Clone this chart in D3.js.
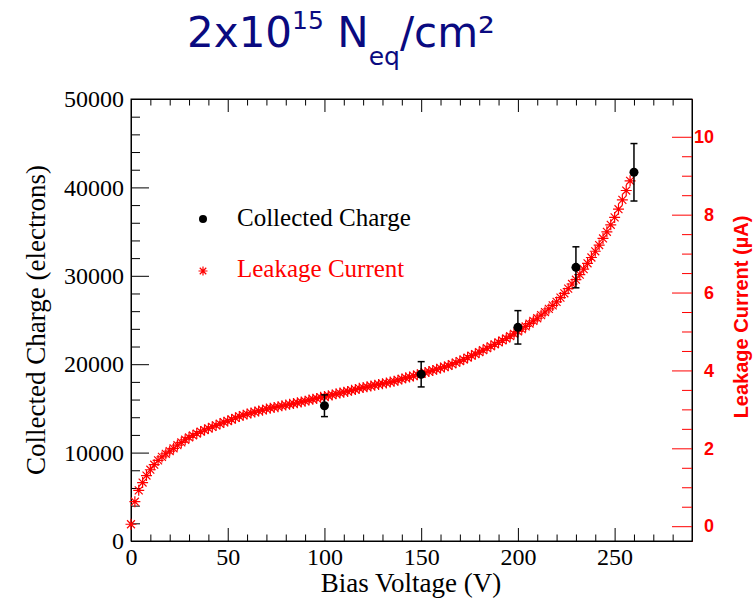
<!DOCTYPE html>
<html>
<head>
<meta charset="utf-8">
<script src="https://d3js.org/d3.v7.min.js"></script>
<style>
  body { margin: 0; background: #fff; }
</style>
</head>
<body>
<div id="chart"></div>
<script>
var svgWidth = 756;
var svgHeight = 600;

// frame of the plot (pixels)
var frame = { left: 131, right: 692, top: 99, bottom: 541 };

// Collected charge measurements
var chargeVoltage = [100, 150, 200, 230, 260];
var chargeValue = [15300, 18860, 24170, 30960, 41710];
var chargeError = [1230, 1430, 1890, 2320, 3250];

// Leakage current scan (V, uA)
var leakVoltage = [0, 2, 4, 6, 8, 10, 12, 14, 16, 18, 20, 22, 24, 26, 28, 30, 32, 34, 36, 38,
  40, 42, 44, 46, 48, 50, 52, 54, 56, 58, 60, 62, 64, 66, 68, 70, 72, 74, 76, 78,
  80, 82, 84, 86, 88, 90, 92, 94, 96, 98, 100, 102, 104, 106, 108, 110, 112, 114, 116, 118,
  120, 122, 124, 126, 128, 130, 132, 134, 136, 138, 140, 142, 144, 146, 148, 150, 152, 154, 156, 158,
  160, 162, 164, 166, 168, 170, 172, 174, 176, 178, 180, 182, 184, 186, 188, 190, 192, 194, 196, 198,
  200, 202, 204, 206, 208, 210, 212, 214, 216, 218, 220, 222, 224, 226, 228, 230, 232, 234, 236, 238,
  240, 242, 244, 246, 248, 250, 252, 254, 256, 258];
var leakCurrent = [0.05, 0.63, 0.92, 1.12, 1.30, 1.45, 1.58, 1.69, 1.78, 1.86, 1.93, 2.00, 2.08, 2.15, 2.22, 2.28, 2.33, 2.38, 2.43, 2.47,
  2.51, 2.55, 2.59, 2.63, 2.67, 2.70, 2.74, 2.78, 2.82, 2.85, 2.88, 2.91, 2.93, 2.96, 2.98, 3.01, 3.03, 3.05, 3.07, 3.09,
  3.11, 3.13, 3.15, 3.17, 3.19, 3.21, 3.24, 3.26, 3.28, 3.31, 3.33, 3.35, 3.37, 3.40, 3.42, 3.44, 3.46, 3.49, 3.51, 3.54,
  3.56, 3.58, 3.60, 3.62, 3.64, 3.66, 3.68, 3.70, 3.72, 3.75, 3.78, 3.81, 3.83, 3.86, 3.89, 3.92, 3.95, 3.97, 4.00, 4.03,
  4.06, 4.09, 4.12, 4.16, 4.20, 4.24, 4.28, 4.33, 4.38, 4.42, 4.47, 4.52, 4.57, 4.62, 4.67, 4.72, 4.77, 4.82, 4.88, 4.94,
  5.00, 5.06, 5.13, 5.20, 5.27, 5.34, 5.42, 5.50, 5.58, 5.67, 5.76, 5.87, 5.98, 6.10, 6.22, 6.33, 6.46, 6.60, 6.75, 6.90,
  7.06, 7.22, 7.39, 7.56, 7.74, 7.93, 8.14, 8.38, 8.62, 8.87];

// tick values
var xMajorTicks = [0, 50, 100, 150, 200, 250];
var yMajorTicks = [0, 10000, 20000, 30000, 40000, 50000];
var iMajorTicks = [0, 2, 4, 6, 8, 10];

var serif = "Liberation Serif, Times New Roman, serif";
var sans = "Liberation Sans, Arial, sans-serif";

var svg = d3.select("#chart")
  .append("svg")
  .attr("width", svgWidth)
  .attr("height", svgHeight);

// scales
var xScale = d3.scaleLinear().domain([0, 290]).range([frame.left, frame.right]);
var yScale = d3.scaleLinear().domain([0, 50000]).range([frame.bottom, frame.top]);
var iScale = d3.scaleLinear().domain([-0.38, 10.97]).range([frame.bottom, frame.top]);

var xMinor = d3.range(0, 291, 10).filter(d => xMajorTicks.indexOf(d) < 0);
var yMinor = d3.range(0, 50001, 2000).filter(d => yMajorTicks.indexOf(d) < 0);
var iMinor = d3.range(0, 21, 1).map(d => d / 2).filter(d => iMajorTicks.indexOf(d) < 0);

// frame
svg.append("rect")
  .attr("x", frame.left)
  .attr("y", frame.top)
  .attr("width", frame.right - frame.left)
  .attr("height", frame.bottom - frame.top)
  .attr("fill", "none")
  .attr("stroke", "#000")
  .attr("stroke-width", 1);

// bottom axis (ticks inside the frame)
var xAxis = svg.append("g")
  .attr("transform", `translate(0, ${frame.bottom})`)
  .call(d3.axisBottom(xScale).tickValues(xMajorTicks).tickSize(-13).tickSizeOuter(0).tickPadding(7));
svg.append("g")
  .attr("transform", `translate(0, ${frame.bottom})`)
  .call(d3.axisBottom(xScale).tickValues(xMinor).tickSize(-6.5).tickSizeOuter(0).tickFormat(""));

// top ticks
svg.append("g")
  .attr("transform", `translate(0, ${frame.top})`)
  .call(d3.axisTop(xScale).tickValues(xMajorTicks).tickSize(-13).tickSizeOuter(0).tickFormat(""));
svg.append("g")
  .attr("transform", `translate(0, ${frame.top})`)
  .call(d3.axisTop(xScale).tickValues(xMinor).tickSize(-6.5).tickSizeOuter(0).tickFormat(""));

// left axis
var yAxis = svg.append("g")
  .attr("transform", `translate(${frame.left}, 0)`)
  .call(d3.axisLeft(yScale).tickValues(yMajorTicks).tickSize(-18).tickSizeOuter(0).tickPadding(7).tickFormat(d3.format("d")));
svg.append("g")
  .attr("transform", `translate(${frame.left}, 0)`)
  .call(d3.axisLeft(yScale).tickValues(yMinor).tickSize(-9).tickSizeOuter(0).tickFormat(""));

svg.selectAll("g.tick line, path.domain").attr("stroke", "#000");
xAxis.selectAll("text").attr("font-size", 24).attr("fill", "#000").attr("font-family", serif);
yAxis.selectAll("text").attr("font-size", 24).attr("fill", "#000").attr("font-family", serif);

// right axis for leakage current
var iAxis = svg.append("g")
  .attr("transform", `translate(${frame.right}, 0)`)
  .call(d3.axisRight(iScale).tickValues(iMajorTicks).tickSize(-20).tickSizeOuter(0).tickPadding(4));
svg.append("g")
  .attr("transform", `translate(${frame.right}, 0)`)
  .call(d3.axisRight(iScale).tickValues(iMinor).tickSize(-10).tickSizeOuter(0).tickFormat(""))
  .selectAll("line").attr("stroke", "#ff0000");
iAxis.selectAll("line, path").attr("stroke", "#ff0000");
iAxis.selectAll("text")
  .attr("x", 22)
  .attr("text-anchor", "end")
  .attr("fill", "#ff0000")
  .attr("font-family", sans)
  .attr("font-weight", "bold")
  .attr("font-size", 18);

// axis titles
svg.append("text")
  .attr("x", 411)
  .attr("y", 592)
  .attr("text-anchor", "middle")
  .attr("font-family", serif)
  .attr("font-size", 27)
  .text("Bias Voltage (V)");

svg.append("text")
  .attr("transform", "translate(45, 320) rotate(-90)")
  .attr("text-anchor", "middle")
  .attr("font-family", serif)
  .attr("font-size", 27)
  .text("Collected Charge (electrons)");

svg.append("text")
  .attr("transform", "translate(748, 317) rotate(-90)")
  .attr("text-anchor", "middle")
  .attr("font-family", sans)
  .attr("font-weight", "bold")
  .attr("font-size", 20)
  .attr("fill", "#ff0000")
  .text("Leakage Current (\u00b5A)");

// title
var title = svg.append("text")
  .attr("x", 341)
  .attr("y", 47)
  .attr("text-anchor", "middle")
  .attr("fill", "#0a0a80")
  .attr("font-family", "DejaVu Sans, sans-serif")
  .attr("font-size", 42);
title.append("tspan").text("2x10");
title.append("tspan").attr("font-size", 25).attr("dy", -18).text("15");
title.append("tspan").attr("dy", 18).text(" N");
title.append("tspan").attr("font-size", 25).attr("dy", 18).text("eq");
title.append("tspan").attr("dy", -18).text("/cm\u00b2");

// star marker path (like ROOT marker 3)
function starPath(r) {
  var d = r * 0.72;
  return `M${-r},0L${r},0M0,${-r}L0,${r}M${-d},${-d}L${d},${d}M${-d},${d}L${d},${-d}`;
}

// leakage current stars
var leakData = leakVoltage.map((v, i) => ({ v: v, c: leakCurrent[i] }));
svg.append("g").selectAll("path")
  .data(leakData)
  .enter()
  .append("path")
  .attr("transform", d => `translate(${xScale(d.v)}, ${iScale(d.c)})`)
  .attr("d", starPath(5.5))
  .attr("stroke", "#ff0000")
  .attr("stroke-width", 1.2)
  .attr("fill", "none");

// collected charge with error bars
var chargeData = chargeVoltage.map((v, i) => ({ v: v, q: chargeValue[i], e: chargeError[i] }));
var pts = svg.append("g").selectAll("g")
  .data(chargeData)
  .enter()
  .append("g");

pts.append("line")
  .attr("x1", d => xScale(d.v))
  .attr("x2", d => xScale(d.v))
  .attr("y1", d => yScale(d.q - d.e))
  .attr("y2", d => yScale(d.q + d.e))
  .attr("stroke", "#000")
  .attr("stroke-width", 1.5);
pts.append("line")
  .attr("x1", d => xScale(d.v) - 3.5)
  .attr("x2", d => xScale(d.v) + 3.5)
  .attr("y1", d => yScale(d.q - d.e))
  .attr("y2", d => yScale(d.q - d.e))
  .attr("stroke", "#000")
  .attr("stroke-width", 1.5);
pts.append("line")
  .attr("x1", d => xScale(d.v) - 3.5)
  .attr("x2", d => xScale(d.v) + 3.5)
  .attr("y1", d => yScale(d.q + d.e))
  .attr("y2", d => yScale(d.q + d.e))
  .attr("stroke", "#000")
  .attr("stroke-width", 1.5);
pts.append("circle")
  .attr("cx", d => xScale(d.v))
  .attr("cy", d => yScale(d.q))
  .attr("r", 4.5)
  .attr("fill", "#000");

// legend
var legend = svg.append("g");
legend.append("circle")
  .attr("cx", 203)
  .attr("cy", 219)
  .attr("r", 4)
  .attr("fill", "#000");
legend.append("text")
  .attr("x", 237)
  .attr("y", 226)
  .attr("font-family", serif)
  .attr("font-size", 25)
  .attr("fill", "#000")
  .text("Collected Charge");
legend.append("path")
  .attr("transform", "translate(203, 271)")
  .attr("d", starPath(4.5))
  .attr("stroke", "#ff0000")
  .attr("stroke-width", 1.2)
  .attr("fill", "none");
legend.append("text")
  .attr("x", 237)
  .attr("y", 277)
  .attr("font-family", serif)
  .attr("font-size", 25)
  .attr("fill", "#ff0000")
  .text("Leakage Current");
</script>
</body>
</html>
